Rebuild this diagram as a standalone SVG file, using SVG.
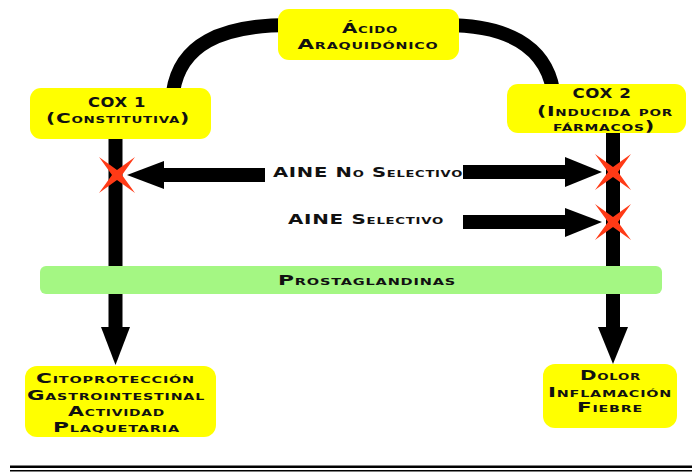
<svg xmlns="http://www.w3.org/2000/svg" width="692" height="472" viewBox="0 0 692 472">
<style>
.box{fill:#ffff00;}
.bar{fill:#a4f783;}
.t{font-family:"DejaVu Sans","Liberation Sans",sans-serif;font-weight:bold;font-size:13.5px;font-variant:small-caps;fill:#111;text-anchor:middle;letter-spacing:0.5px;}
.line{fill:none;stroke:#000;stroke-width:14;}
.ar{fill:#000;}
.x{fill:#ff3a16;}
</style>
<defs>
<polygon id="star" points="-18,-18 0,-5 18,-18 5,0 18,18 0,5 -18,18 -5,0"/>
</defs>
<rect width="692" height="472" fill="#fff"/>
<g id="connectors">
<path class="line" d="M173 92 C180 45 220 25 290 25 L445 25 C505 25 545 45 553 90"/>
<path class="line" d="M115.5 139 V328"/>
<polygon class="ar" points="101,327 130,327 115.5,365"/>
<path class="line" d="M613 133 V328"/>
<polygon class="ar" points="598,327 628,327 613,364"/>
<rect class="ar" x="163" y="168" width="102" height="14"/>
<polygon class="ar" points="127,175 164,161 164,189"/>
<rect class="ar" x="463" y="165" width="103" height="14"/>
<polygon class="ar" points="565,157 602,172 565,187"/>
<rect class="ar" x="463" y="215" width="103" height="14"/>
<polygon class="ar" points="565,208 602,222 565,237"/>
</g>
<g id="x-marks">
<use href="#star" class="x" x="117" y="175"/>
<use href="#star" class="x" x="613" y="172"/>
<use href="#star" class="x" x="613" y="222"/>
</g>
<g id="acido">
<rect class="box" x="278" y="9" width="181" height="51" rx="11"/>
<text class="t" x="370" y="33" textLength="56" lengthAdjust="spacingAndGlyphs">Ácido</text>
<text class="t" x="368" y="49" textLength="141" lengthAdjust="spacingAndGlyphs">Araquidónico</text>
</g>
<g id="cox1">
<rect class="box" x="30" y="88" width="181" height="51" rx="11"/>
<text class="t" x="117" y="107" textLength="58" lengthAdjust="spacingAndGlyphs">COX 1</text>
<text class="t" x="118" y="123" textLength="144" lengthAdjust="spacingAndGlyphs">(Constitutiva)</text>
</g>
<g id="cox2">
<rect class="box" x="507" y="84" width="179" height="49" rx="11"/>
<text class="t" x="602" y="98" textLength="59" lengthAdjust="spacingAndGlyphs">COX 2</text>
<text class="t" x="605" y="116" textLength="136" lengthAdjust="spacingAndGlyphs">(Inducida por</text>
<text class="t" x="604" y="131" textLength="102" lengthAdjust="spacingAndGlyphs">fármacos)</text>
</g>
<g id="aine-no-selectivo">
<text class="t" x="368" y="177" textLength="190" lengthAdjust="spacingAndGlyphs">AINE No Selectivo</text>
</g>
<g id="aine-selectivo">
<text class="t" x="366" y="224" textLength="156" lengthAdjust="spacingAndGlyphs">AINE Selectivo</text>
</g>
<g id="prostaglandinas">
<rect class="bar" x="40" y="266" width="622" height="28" rx="6"/>
<text class="t" x="367" y="285" textLength="178" lengthAdjust="spacingAndGlyphs">Prostaglandinas</text>
</g>
<g id="citoproteccion">
<rect class="box" x="25" y="366" width="191" height="71" rx="12"/>
<text class="t" x="115.5" y="383" textLength="159" lengthAdjust="spacingAndGlyphs">Citoprotección</text>
<text class="t" x="116" y="400" textLength="178" lengthAdjust="spacingAndGlyphs">Gastrointestinal</text>
<text class="t" x="116.5" y="416" textLength="97" lengthAdjust="spacingAndGlyphs">Actividad</text>
<text class="t" x="116.5" y="432" textLength="127" lengthAdjust="spacingAndGlyphs">Plaquetaria</text>
</g>
<g id="dolor">
<rect class="box" x="543" y="364" width="134" height="64" rx="12"/>
<text class="t" x="610.5" y="380" textLength="61" lengthAdjust="spacingAndGlyphs">Dolor</text>
<text class="t" x="610" y="397" textLength="124" lengthAdjust="spacingAndGlyphs">Inflamación</text>
<text class="t" x="610" y="412" textLength="66" lengthAdjust="spacingAndGlyphs">Fiebre</text>
</g>
<g id="rule">
<rect x="10" y="465.5" width="682" height="2.5" fill="#000"/>
<rect x="10" y="470" width="682" height="1.5" fill="#000"/>
</g>
</svg>
